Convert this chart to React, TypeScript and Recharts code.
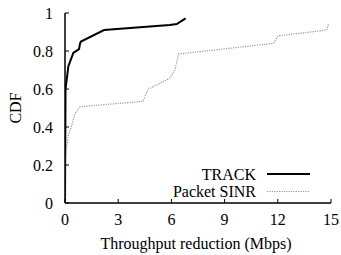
import React from "react";
import { LineChart, Line, XAxis, YAxis, Legend } from "recharts";

const FONT = '"Liberation Serif", "Times New Roman", serif';
const TXT = { fontFamily: FONT, fontSize: 16 };

// throughput reduction (Mbps) vs CDF
const trackX = [0, 0.03, 0.19, 0.47, 0.79, 0.85, 0.9, 2.2, 5.9, 6.3, 6.8];
const trackCdf = [0, 0.6, 0.72, 0.79, 0.81, 0.84, 0.85, 0.91, 0.937, 0.942, 0.972];

const sinrX = [0, 0.02, 0.09, 0.2, 0.38, 0.56, 0.85, 4.4, 4.5, 4.7, 5.9, 6.2, 6.4, 11.75, 12.03, 14.76, 14.85];
const sinrCdf = [0, 0.25, 0.29, 0.36, 0.41, 0.47, 0.507, 0.535, 0.56, 0.6, 0.656, 0.7, 0.784, 0.84, 0.88, 0.91, 0.94];

const seriesNames = ["TRACK", "Packet SINR"];
const xTicks = [0, 3, 6, 9, 12, 15];
const yTicks = [0, 0.2, 0.4, 0.6, 0.8, 1];

const trackData = trackX.map((x, i) => ({ x, cdf: trackCdf[i] }));
const sinrData = sinrX.map((x, i) => ({ x, cdf: sinrCdf[i] }));

const TICK = 4;

function BottomTick({ x, y, payload }: any) {
  return (
    <g>
      <line x1={x} y1={y} x2={x} y2={y - TICK} stroke="#000" />
      <text x={x} y={y + 22} textAnchor="middle" style={TXT} fill="#000">
        {payload.value}
      </text>
    </g>
  );
}

function TopTick({ x, y }: any) {
  return <line x1={x} y1={y} x2={x} y2={y + TICK} stroke="#000" />;
}

function LeftTick({ x, y, payload }: any) {
  return (
    <g>
      <line x1={x} y1={y} x2={x + TICK} y2={y} stroke="#000" />
      <text x={x - 12} y={y + 5.5} textAnchor="end" style={TXT} fill="#000">
        {payload.value}
      </text>
    </g>
  );
}

function RightTick({ x, y }: any) {
  return <line x1={x} y1={y} x2={x - TICK} y2={y} stroke="#000" />;
}

function KeyBox({ payload }: any) {
  const items = [...(payload || [])].sort(
    (a: any, b: any) => seriesNames.indexOf(a.value) - seriesNames.indexOf(b.value)
  );
  return (
    <svg width={170} height={40} style={{ display: "block" }}>
      {items.map((it: any, i: number) => {
        const cy = 14 + i * 17.5;
        return (
          <g key={it.value}>
            <text x={106} y={cy + 5.5} textAnchor="end" style={TXT} fill="#000">
              {it.value}
            </text>
            <line
              x1={117}
              y1={cy}
              x2={160}
              y2={cy}
              stroke={it.payload.stroke}
              strokeWidth={it.payload.strokeWidth}
              strokeDasharray={it.payload.strokeDasharray}
            />
          </g>
        );
      })}
    </svg>
  );
}

export default function App() {
  return (
    <div style={{ position: "absolute", left: 0, top: 0, fontFamily: FONT }}>
      <LineChart width={341} height={255} margin={{ top: 13, right: 10, bottom: 0, left: 0 }}>
        <XAxis
          xAxisId="b"
          type="number"
          dataKey="x"
          domain={[0, 15]}
          ticks={xTicks}
          height={52}
          tickSize={0}
          tickMargin={0}
          tickLine={false}
          tick={<BottomTick />}
          axisLine={{ stroke: "#000", strokeWidth: 1.5 }}
          allowDataOverflow
          label={{
            content: ({ viewBox }: any) => (
              <text
                x={viewBox.x + viewBox.width / 2 - 2}
                y={viewBox.y + 46}
                textAnchor="middle"
                style={TXT}
                fill="#000"
              >
                Throughput reduction (Mbps)
              </text>
            ),
          }}
        />
        <XAxis
          xAxisId="t"
          orientation="top"
          type="number"
          dataKey="x"
          domain={[0, 15]}
          ticks={xTicks}
          height={0}
          tickSize={0}
          tickMargin={0}
          tickLine={false}
          tick={<TopTick />}
          axisLine={{ stroke: "#000", strokeWidth: 1.5 }}
        />
        <YAxis
          yAxisId="l"
          type="number"
          domain={[0, 1]}
          ticks={yTicks}
          width={65}
          tickSize={0}
          tickMargin={0}
          tickLine={false}
          tick={<LeftTick />}
          axisLine={{ stroke: "#000", strokeWidth: 1.5 }}
          label={{
            content: ({ viewBox }: any) => {
              const cx = viewBox.x + 15;
              const cy = viewBox.y + viewBox.height / 2;
              return (
                <text
                  x={cx}
                  y={cy}
                  dy={5.5}
                  transform={`rotate(-90 ${cx} ${cy})`}
                  textAnchor="middle"
                  style={TXT}
                  fill="#000"
                >
                  CDF
                </text>
              );
            },
          }}
        />
        <YAxis
          yAxisId="r"
          orientation="right"
          type="number"
          domain={[0, 1]}
          ticks={yTicks}
          width={0}
          tickSize={0}
          tickMargin={0}
          tickLine={false}
          tick={<RightTick />}
          axisLine={{ stroke: "#000", strokeWidth: 1.5 }}
        />
        <Legend
          layout="horizontal"
          verticalAlign="middle"
          align="center"
          content={<KeyBox />}
          wrapperStyle={{ position: "absolute", left: 150, top: 160, width: 170, height: 40 }}
        />
        <Line
          xAxisId="b"
          yAxisId="l"
          name={seriesNames[0]}
          data={trackData}
          dataKey="cdf"
          type="linear"
          stroke="#000"
          strokeWidth={2}
          dot={false}
          isAnimationActive={false}
        />
        <Line
          xAxisId="b"
          yAxisId="l"
          name={seriesNames[1]}
          data={sinrData}
          dataKey="cdf"
          type="linear"
          stroke="#999"
          strokeWidth={1.2}
          strokeDasharray="1.2 1.2"
          dot={false}
          isAnimationActive={false}
        />
      </LineChart>
    </div>
  );
}
